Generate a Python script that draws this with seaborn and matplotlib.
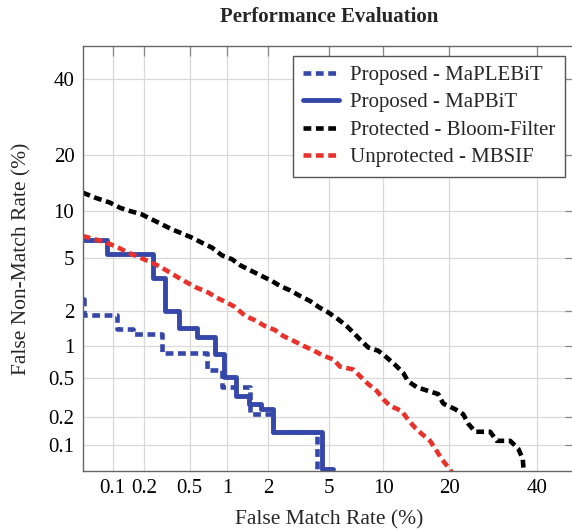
import math
import numpy as np
import seaborn as sns
import matplotlib
matplotlib.use("Agg")
import matplotlib.pyplot as plt

# DET curves, all rates in percent
maplebit_fmr = [0.05, 0.052, 0.109, 0.157, 0.29, 0.70, 0.92, 1.5, 2.18, 4.2, 4.6]
maplebit_fnmr = [2.5, 1.85, 1.43, 1.29, 0.87, 0.60, 0.41, 0.22, 0.139, 0.053, 0.053]

mapbit_fmr = [0.05, 0.087, 0.238, 0.308, 0.406, 0.58, 0.80, 0.95, 1.17, 1.46, 1.80, 2.18, 4.52, 5.3]
mapbit_fnmr = [6.6, 5.37, 3.62, 2.02, 1.45, 1.21, 0.86, 0.52, 0.333, 0.276, 0.247, 0.139, 0.053, 0.053]

bloom_fmr = [0.05, 0.067, 0.094, 0.118, 0.147, 0.189, 0.233, 0.287, 0.351, 0.428, 0.52, 0.63,
             0.76, 0.91, 1.09, 1.26, 1.49, 1.76, 2.13, 2.43, 2.83, 3.30, 3.82, 4.37, 4.95, 5.67,
             6.34, 6.91, 7.52, 8.34, 9.42, 10.4, 11.4, 12.5, 13.2, 14.5, 16.1, 18.0, 18.9, 21.1,
             22.7, 23.8, 25.2, 28.5, 30.0, 33.2, 35.2, 36.3, 36.6]
bloom_fnmr = [12.8, 12.0, 11.25, 10.5, 10.05, 9.6, 8.97, 8.36, 7.78, 7.34, 6.89, 6.38,
              5.92, 5.25, 4.93, 4.47, 4.12, 3.79, 3.44, 3.15, 2.92, 2.64, 2.41, 2.14, 1.95, 1.71,
              1.50, 1.32, 1.15, 0.975, 0.91, 0.79, 0.68, 0.57, 0.47, 0.41, 0.38, 0.35, 0.28, 0.245,
              0.217, 0.17, 0.14, 0.14, 0.111, 0.111, 0.09, 0.069, 0.045]

mbsif_fmr = [0.05, 0.067, 0.087, 0.113, 0.141, 0.182, 0.225, 0.277, 0.339, 0.414, 0.487, 0.57,
             0.71, 0.83, 1.0, 1.15, 1.37, 1.62, 1.91, 2.24, 2.56, 2.98, 3.46, 4.0, 4.62, 5.3,
             5.8, 6.9, 7.5, 8.34, 9.24, 10.0, 10.8, 12.3, 13.2, 14.2, 15.3, 16.6, 17.7, 18.6,
             19.8, 20.8]
mbsif_fnmr = [7.05, 6.71, 6.38, 5.92, 5.47, 5.06, 4.72, 4.37, 3.96, 3.58, 3.30, 3.06,
              2.81, 2.56, 2.34, 2.16, 1.83, 1.68, 1.50, 1.39, 1.23, 1.12, 1.01, 0.92, 0.82, 0.76,
              0.65, 0.61, 0.53, 0.44, 0.377, 0.31, 0.265, 0.235, 0.19, 0.156, 0.132, 0.111, 0.086, 0.069,
              0.055, 0.045]

tick_vals = [0.1, 0.2, 0.5, 1, 2, 5, 10, 20, 40]
tick_labels = ["0.1", "0.2", "0.5", "1", "2", "5", "10", "20", "40"]

# probit (normal deviate) axis, percent <-> z
z_grid = np.linspace(-7, 7, 28001)
p_grid = np.array([50.0 * math.erfc(-z / math.sqrt(2)) for z in z_grid])


def to_probit(v):
    return np.interp(np.asarray(v, dtype=float), p_grid, z_grid)


def from_probit(z):
    return np.interp(np.asarray(z, dtype=float), z_grid, p_grid)


sns.set_theme(style="whitegrid")
plt.rcParams['font.family'] = ['Liberation Serif', 'DejaVu Serif']

blue = "#3547a8"
red = "#e8322b"

fig = plt.figure(figsize=(5.72, 5.29), dpi=100)
ax = fig.add_axes([0.1446, 0.1102, 0.861, 0.8028])
ax.set_xscale('function', functions=(to_probit, from_probit))
ax.set_yscale('function', functions=(to_probit, from_probit))

dash = (0, (1.7, 1.0))
sns.lineplot(x=maplebit_fmr, y=maplebit_fnmr, ax=ax, color=blue, lw=3.3, linestyle=dash,
             drawstyle='steps-post', sort=False, estimator=None, label="Proposed - MaPLEBiT")
sns.lineplot(x=mapbit_fmr, y=mapbit_fnmr, ax=ax, color=blue, lw=3.5,
             drawstyle='steps-post', sort=False, estimator=None, label="Proposed - MaPBiT")
sns.lineplot(x=bloom_fmr, y=bloom_fnmr, ax=ax, color="black", lw=3.3, linestyle=dash,
             sort=False, estimator=None, label="Protected - Bloom-Filter")
sns.lineplot(x=mbsif_fmr, y=mbsif_fnmr, ax=ax, color=red, lw=3.3, linestyle=dash,
             sort=False, estimator=None, label="Unprotected - MBSIF")

ax.set_xlim(0.05, 50)
ax.set_ylim(0.05, 50)
ax.set_xticks(tick_vals)
ax.set_xticklabels(tick_labels)
ax.set_yticks(tick_vals)
ax.set_yticklabels(tick_labels)
ax.minorticks_off()

ax.grid(True, color="#d9d9d9", lw=0.9)
for sp in ax.spines.values():
    sp.set_color("#666666")
    sp.set_linewidth(1.0)
ax.tick_params(direction='in', length=7, width=0.9, color="#888888", top=True, right=True,
               labelsize=15, pad=6, labelcolor="black")

ax.set_title("Performance Evaluation", fontsize=15, fontweight='bold', pad=17)
ax.set_xlabel("False Match Rate (%)", fontsize=15.5, labelpad=9)
ax.set_ylabel("False Non-Match Rate (%)", fontsize=15.5, labelpad=12)

leg = ax.legend(loc='upper right', fontsize=15, frameon=True, fancybox=False,
                framealpha=1, edgecolor="#555555", handlelength=1.75, handletextpad=0.55,
                labelspacing=0.38, borderaxespad=0.48, borderpad=0.45)
leg.get_frame().set_linewidth(1.0)

fig.savefig("out.png", dpi=100)
